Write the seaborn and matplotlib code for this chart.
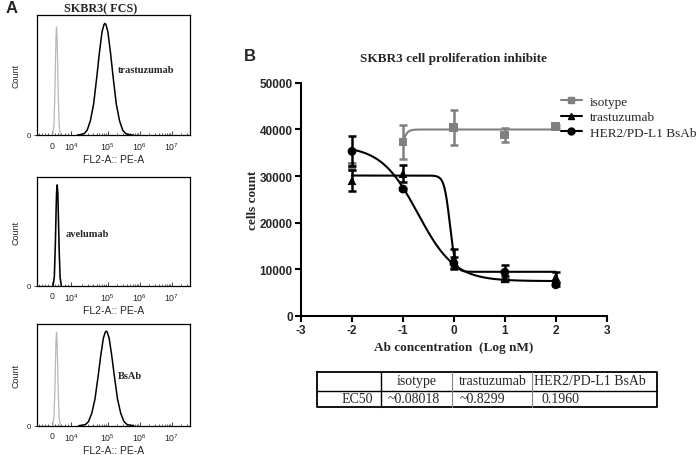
import numpy as np
import pandas as pd
import matplotlib
matplotlib.use("Agg")
import matplotlib.pyplot as plt
import seaborn as sns
from matplotlib.lines import Line2D

# ---- panel A: flow histograms (x in plot display units, y = fraction of max count)
flow_tick_pos = [3.4, 4.0, 5.13, 6.13, 7.12]
flow_tick_labels = ["0", "$10^{4}$", "$10^{5}$", "$10^{6}$", "$10^{7}$"]

tras_ctrl_x = [3.43, 3.47, 3.50, 3.52, 3.535, 3.55, 3.565, 3.58, 3.60, 3.63, 3.67]
tras_ctrl_y = [0, 0.08, 0.36, 0.65, 0.83, 0.90, 0.83, 0.65, 0.36, 0.08, 0]
tras_stain_x = [4.20, 4.40, 4.50, 4.60, 4.70, 4.80, 4.88, 4.96, 5.02, 5.05,
                5.08, 5.14, 5.22, 5.30, 5.40, 5.50, 5.60, 5.70, 5.90]
tras_stain_y = [0, 0.01, 0.04, 0.12, 0.26, 0.49, 0.69, 0.86, 0.92, 0.93,
                0.92, 0.86, 0.69, 0.49, 0.26, 0.12, 0.04, 0.01, 0]

ave_ctrl_x = [3.45, 3.49, 3.52, 3.54, 3.555, 3.57, 3.585, 3.60, 3.62, 3.65, 3.69]
ave_ctrl_y = [0, 0.08, 0.36, 0.66, 0.84, 0.91, 0.84, 0.66, 0.36, 0.08, 0]
ave_stain_x = [3.44, 3.48, 3.51, 3.535, 3.55, 3.57, 3.59, 3.605, 3.63, 3.66, 3.70]
ave_stain_y = [0, 0.08, 0.36, 0.68, 0.86, 0.93, 0.86, 0.68, 0.36, 0.08, 0]

bsab_ctrl_x = [3.43, 3.47, 3.50, 3.52, 3.535, 3.55, 3.565, 3.58, 3.60, 3.63, 3.67]
bsab_ctrl_y = [0, 0.08, 0.36, 0.66, 0.85, 0.92, 0.85, 0.66, 0.36, 0.08, 0]
bsab_stain_x = [4.24, 4.44, 4.54, 4.64, 4.74, 4.84, 4.92, 5.00, 5.06, 5.09,
                5.12, 5.18, 5.26, 5.34, 5.44, 5.54, 5.64, 5.74, 5.94]
bsab_stain_y = [0, 0.01, 0.04, 0.12, 0.26, 0.49, 0.69, 0.86, 0.92, 0.93,
                0.92, 0.86, 0.69, 0.49, 0.26, 0.12, 0.04, 0.01, 0]

# ---- panel B: proliferation assay
log_dose = [-2, -1, 0, 1, 2]
iso_mean = [32000, 37300, 40400, 38800, 40700]
iso_sd = [800, 3700, 3700, 1500, 300]
tras_mean = [29000, 30500, 12300, 7900, 8300]
tras_sd = [2300, 1800, 2000, 500, 1000]
bsab_mean = [35300, 27200, 11200, 9300, 6600]
bsab_sd = [3200, 300, 1300, 1500, 300]

# 4PL fit: bottom, top, logEC50, hill
iso_fit = [20000, 40000, -1.096, 8.0]
tras_fit = [9400, 30100, -0.081, -8.0]
bsab_fit = [7400, 36500, -0.708, -1.2]

series = ["isotype", "trastuzumab", "HER2/PD-L1 BsAb"]
ec50_text = ["~0.08018", "~0.8299", "0.1960"]


def four_pl(x, bottom, top, logec50, hill):
    return bottom + (top - bottom) / (1 + 10 ** ((logec50 - x) * hill))


sns.set_theme(style="ticks")
serif = ["Liberation Serif", "DejaVu Serif"]
sans = ["Liberation Sans", "DejaVu Sans"]
plt.rcParams["font.family"] = sans
plt.rcParams["axes.unicode_minus"] = False
plt.rcParams["mathtext.fontset"] = "custom"
plt.rcParams["mathtext.rm"] = "Liberation Sans"

fig = plt.figure(figsize=(6.97, 4.56), dpi=100)
fig.patch.set_facecolor("white")


def draw_flow(rect, cx, cy, sx, sy, label, lab_xy):
    ax = fig.add_axes(rect)
    sns.lineplot(x=cx, y=cy, ax=ax, color="#b8b8b8", lw=0.9, sort=False)
    sns.lineplot(x=sx, y=sy, ax=ax, color="black", lw=1.1, sort=False)
    ax.set_xlim(2.945, 7.70)
    ax.set_ylim(0, 1)
    for s in ax.spines.values():
        s.set_linewidth(0.9)
        s.set_color("black")
    ax.set_xticks(flow_tick_pos)
    ax.set_xticklabels(flow_tick_labels, fontsize=6.3)
    minor = []
    for lo, hi in zip(flow_tick_pos[1:-1], flow_tick_pos[2:]):
        minor += [lo + (hi - lo) * np.log10(k) for k in range(2, 10)]
    minor += [3.0, 3.1, 3.2, 3.3, 3.5, 3.6, 3.7, 3.8, 3.9]
    minor += [7.12 + np.log10(k) for k in range(2, 4)]
    ax.set_xticks(minor, minor=True)
    ax.tick_params(axis="x", which="major", direction="in", length=3, width=0.6, pad=4)
    ax.tick_params(axis="x", which="minor", direction="in", length=1.8, width=0.5)
    ax.set_yticks([0])
    ax.set_yticklabels(["0"], fontsize=5.8)
    ax.tick_params(axis="y", length=2, width=0.6, pad=2)
    ax.set_xlabel("FL2-A:: PE-A", fontsize=7.5, labelpad=1.5)
    ax.set_ylabel("")
    ax.text(-0.137, 0.5, "Count", rotation=90, ha="center", va="center",
            fontsize=6.5, transform=ax.transAxes)
    ax.text(lab_xy[0], lab_xy[1], label, ha="left", va="center", fontsize=7.5,
            fontweight="bold", family=serif, transform=ax.transAxes)
    return ax


draw_flow([0.0531, 0.7018, 0.2202, 0.2632], tras_ctrl_x, tras_ctrl_y,
          tras_stain_x, tras_stain_y, "trastuzumab", (0.528, 0.542))
draw_flow([0.0531, 0.3713, 0.2202, 0.2377], ave_ctrl_x, ave_ctrl_y,
          ave_stain_x, ave_stain_y, "avelumab", (0.186, 0.477))
draw_flow([0.0531, 0.0643, 0.2202, 0.2230], bsab_ctrl_x, bsab_ctrl_y,
          bsab_stain_x, bsab_stain_y, "BsAb", (0.53, 0.489))

fig.text(0.1443, 0.980, "SKBR3( FCS)", ha="center", va="center", fontsize=8.7,
         fontweight="bold", family=serif)
fig.text(0.0172, 0.982, "A", ha="center", va="center", fontsize=12, fontweight="bold")
fig.text(0.3587, 0.877, "B", ha="center", va="center", fontsize=12, fontweight="bold")

# ---- panel B
axb = fig.add_axes([0.4319, 0.3059, 0.4386, 0.5099])
colors = {"isotype": "#808080", "trastuzumab": "black", "HER2/PD-L1 BsAb": "black"}
markers = {"isotype": "s", "trastuzumab": "^", "HER2/PD-L1 BsAb": "o"}
fits = {"isotype": (iso_fit, -1.0), "trastuzumab": (tras_fit, -2.0),
        "HER2/PD-L1 BsAb": (bsab_fit, -2.0)}
means = {"isotype": iso_mean, "trastuzumab": tras_mean, "HER2/PD-L1 BsAb": bsab_mean}
sds = {"isotype": iso_sd, "trastuzumab": tras_sd, "HER2/PD-L1 BsAb": bsab_sd}

for name in series:
    p, x0 = fits[name]
    xs = np.linspace(x0, 2, 300)
    sns.lineplot(x=xs, y=four_pl(xs, *p), ax=axb, color=colors[name], lw=1.5)

for name in series:
    axb.errorbar(log_dose, means[name], yerr=sds[name], fmt="none",
                 ecolor=colors[name], elinewidth=1.8, capsize=2.6, capthick=1.8)

df = pd.DataFrame({
    "dose": log_dose * 3,
    "count": iso_mean + tras_mean + bsab_mean,
    "group": sum([[n] * len(log_dose) for n in series], []),
})
sns.scatterplot(data=df, x="dose", y="count", hue="group", style="group",
                palette=colors, markers=markers, s=40, edgecolor="none",
                legend=False, ax=axb)

axb.set_xlim(-3, 3)
axb.set_ylim(0, 50000)
axb.set_xticks(range(-3, 4))
axb.set_yticks(range(0, 50001, 10000))
axb.set_xlabel("")
axb.set_ylabel("")
sns.despine(ax=axb)
for s in ["left", "bottom"]:
    axb.spines[s].set_linewidth(1.5)
    axb.spines[s].set_color("black")
axb.tick_params(direction="out", length=4, width=1.5, color="black", pad=2)
for t in axb.get_xticklabels() + axb.get_yticklabels():
    t.set_fontsize(8.5)
    t.set_fontweight("bold")

fig.text(0.6513, 0.8706, "SKBR3 cell proliferation inhibite", ha="center", va="center",
         fontsize=9.5, fontweight="bold", family=serif)
fig.text(0.363, 0.561, "cells count", rotation=90, ha="center", va="center",
         fontsize=9.5, fontweight="bold", family=serif)
fig.text(0.6513, 0.2362, "Ab concentration  (Log nM)", ha="center", va="center",
         fontsize=9.5, fontweight="bold", family=serif)

handles = [Line2D([], [], color=colors[n], marker=markers[n], markersize=5, lw=1.5)
           for n in series]
fig.legend(handles, series, loc="upper left", bbox_to_anchor=(0.797, 0.8),
           frameon=False, prop={"family": serif, "size": 9.5},
           handlelength=1.6, handletextpad=0.6, labelspacing=0.25, borderaxespad=0)

# ---- EC50 table drawn in pixel coordinates
axt = fig.add_axes([0, 0, 1, 1])
axt.set_xlim(0, 697)
axt.set_ylim(456, 0)
axt.axis("off")
left, right, top, bottom, mid = 317, 657, 372.7, 408, 391.7
cols = [381, 452.3, 532.3]
axt.plot([left, right, right, left, left], [top, top, bottom, bottom, top],
         color="black", lw=1.3)
axt.plot([left, right], [mid, mid], color="black", lw=1.0)
axt.plot([cols[0], cols[0]], [top, bottom], color="black", lw=1.0)
axt.plot([cols[1], cols[1]], [top, bottom], color="#888888", lw=0.8)
axt.plot([cols[2], cols[2]], [top, bottom], color="#888888", lw=0.8)
row1, row2 = 381.7, 399.8
tfont = dict(family=serif, fontsize=10, va="center")
axt.text((cols[0] + cols[1]) / 2, row1, series[0], ha="center", **tfont)
axt.text((cols[1] + cols[2]) / 2, row1, series[1], ha="center", **tfont)
axt.text(cols[2] + 1.5, row1, series[2], ha="left", **tfont)
axt.text(cols[0] - 8, row2, "EC50", ha="right", **tfont)
axt.text(cols[0] + 7, row2, ec50_text[0], ha="left", **tfont)
axt.text(cols[1] + 7, row2, ec50_text[1], ha="left", **tfont)
axt.text(cols[2] + 9, row2, ec50_text[2], ha="left", **tfont)

fig.savefig("out.png", dpi=100, facecolor="white")
